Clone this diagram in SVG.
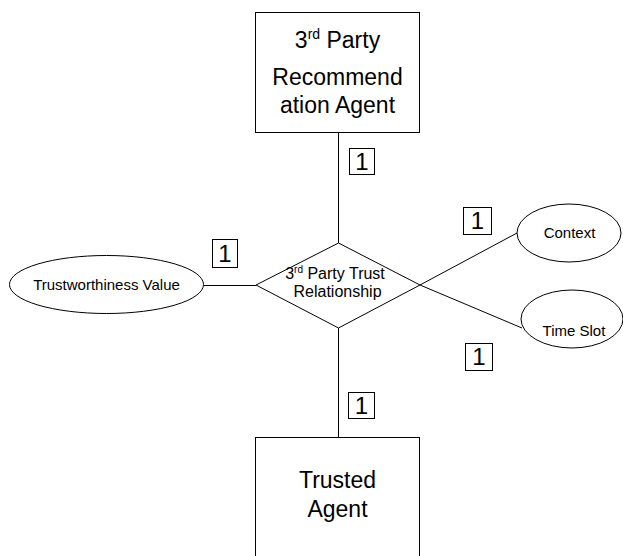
<svg xmlns="http://www.w3.org/2000/svg" width="623" height="556" viewBox="0 0 623 556">
  <style>
    .shape { fill: #ffffff; stroke: #000000; stroke-width: 1; }
    .conn { stroke: #000000; stroke-width: 1; fill: none; }
    .big { font-family: "Liberation Sans", Arial, sans-serif; font-size: 23px; fill: #000; text-anchor: middle; }
    .small { font-family: "Liberation Sans", Arial, sans-serif; font-size: 15px; fill: #000; text-anchor: middle; }
    .rel { font-family: "Liberation Sans", Arial, sans-serif; font-size: 16px; fill: #000; text-anchor: middle; }
    .card { font-family: "Liberation Sans", Arial, sans-serif; font-size: 24px; fill: #000; text-anchor: middle; }
  </style>
  <rect width="623" height="556" fill="#ffffff"/>

  <!-- connectors -->
  <g id="connectors">
    <line class="conn" x1="338.5" y1="132" x2="338.5" y2="243"/>
    <line class="conn" x1="338.5" y1="328" x2="338.5" y2="437"/>
    <line class="conn" x1="204" y1="285.5" x2="256" y2="285.5"/>
    <line class="conn" x1="420" y1="285" x2="517" y2="233"/>
    <line class="conn" x1="420" y1="285" x2="522" y2="328"/>
  </g>

  <!-- cardinality labels -->
  <g id="cardinalities">
    <rect class="shape" x="349.5" y="148.5" width="25" height="26"/>
    <text class="card" x="362" y="170">1</text>
    <rect class="shape" x="212.5" y="239.5" width="25" height="28"/>
    <text class="card" x="225" y="262">1</text>
    <rect class="shape" x="463.5" y="207.5" width="28" height="27"/>
    <text class="card" x="477.5" y="229">1</text>
    <rect class="shape" x="465.5" y="343.5" width="27" height="27"/>
    <text class="card" x="479" y="365">1</text>
    <rect class="shape" x="348.5" y="392.5" width="26" height="26"/>
    <text class="card" x="361.5" y="414">1</text>
  </g>

  <!-- entity: recommendation agent -->
  <g id="recommendation-agent">
    <rect class="shape" x="255.5" y="12.5" width="164" height="120"/>
    <text class="big" x="337.5" y="48">3<tspan font-size="14" dy="-9">rd</tspan><tspan dy="9"> Party</tspan></text>
    <text class="big" x="337.5" y="85">Recommend</text>
    <text class="big" x="337.5" y="113">ation Agent</text>
  </g>

  <!-- relationship -->
  <g id="trust-relationship">
    <polygon class="shape" points="338.5,243 420,285 338.5,328 256,285"/>
    <text class="rel" x="335" y="279">3<tspan font-size="10" dy="-6">rd</tspan><tspan dy="6"> Party Trust</tspan></text>
    <text class="rel" x="337.5" y="297">Relationship</text>
  </g>

  <!-- entity: trusted agent -->
  <g id="trusted-agent">
    <rect class="shape" x="255.5" y="437.5" width="164" height="130"/>
    <text class="big" x="337.5" y="488">Trusted</text>
    <text class="big" x="337.5" y="517">Agent</text>
  </g>

  <!-- attributes -->
  <g id="trustworthiness-value">
    <ellipse class="shape" cx="106.5" cy="284.5" rx="97" ry="29"/>
    <text class="small" x="106.5" y="290">Trustworthiness Value</text>
  </g>
  <g id="context">
    <ellipse class="shape" cx="569" cy="233" rx="52" ry="29"/>
    <text class="small" x="569.5" y="238">Context</text>
  </g>
  <g id="time-slot">
    <ellipse class="shape" cx="572" cy="319" rx="51" ry="29"/>
    <text class="small" x="574" y="336">Time Slot</text>
  </g>
</svg>
